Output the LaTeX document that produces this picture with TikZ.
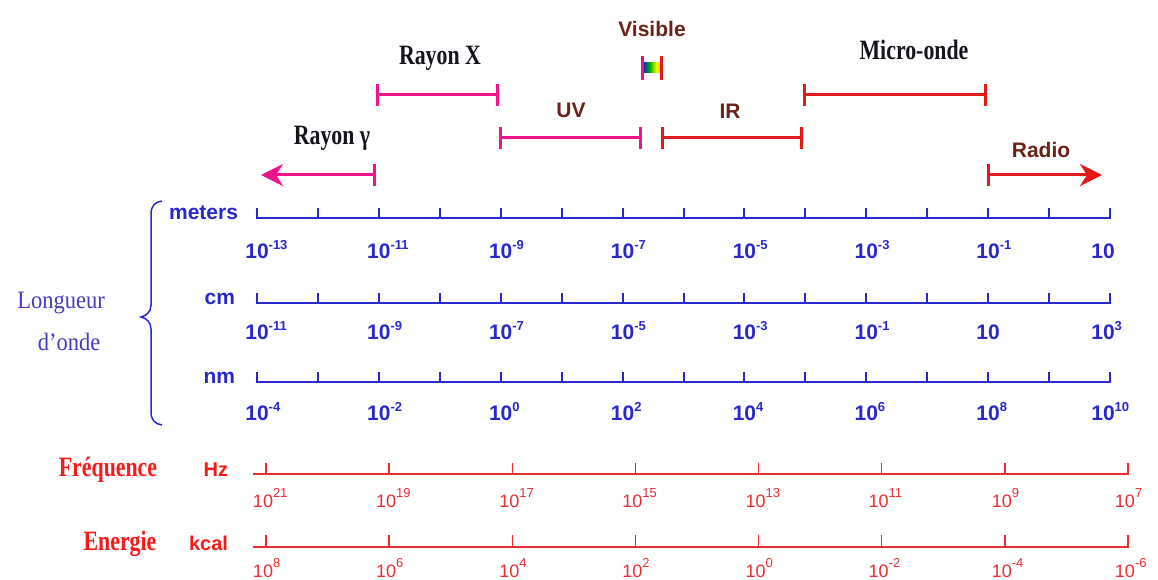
\documentclass[tikz,border=0pt]{standalone}
\usepackage{fontspec}
\setmainfont{Liberation Serif}
\newfontfamily\titlef[FakeStretch=0.78]{Liberation Serif}
\newfontfamily\lngf[FakeStretch=0.9]{Liberation Serif}
\newfontfamily\bluef{Liberation Sans}
\newfontfamily\plainf{Liberation Sans}
\usetikzlibrary{arrows.meta}
\definecolor{myblue}{RGB}{40,40,205}
\definecolor{lblue}{RGB}{70,60,190}
\definecolor{mypink}{RGB}{240,20,140}
\definecolor{myred}{RGB}{225,25,25}
\definecolor{axred}{RGB}{235,45,50}
\definecolor{txtred}{RGB}{250,25,25}
\definecolor{mybrown}{RGB}{105,35,25}
\definecolor{ttlblack}{RGB}{20,20,30}
\pgfdeclarehorizontalshading{rainbow}{100bp}{color(0bp)=(magenta); color(20bp)=(blue); color(45bp)=(green!70!black); color(65bp)=(yellow); color(82bp)=(orange); color(100bp)=(red)}
\newcommand\bexp[1]{\raisebox{0.42em}{\fontsize{13}{13}\selectfont#1}}
\newcommand\rexp[1]{\raisebox{0.55em}{\fontsize{13}{13}\selectfont#1}}
\newcommand\blab[1]{\llap{1}\rlap{0\bexp{#1}}}
\newcommand\rlab[1]{\llap{1}\rlap{0\rexp{#1}}}
\begin{document}
\begin{tikzpicture}[x=1pt,y=-1pt,
  every node/.style={inner sep=0pt,outer sep=0pt},
  rangebar/.style={line width=3pt},
  bothbars/.style={{Bar[width=22pt]}-{Bar[width=22pt]}},
  bluax/.style={myblue,line width=2pt},
  redax/.style={axred,line width=1.4pt},
  ttl/.style={font=\titlef\bfseries\fontsize{28}{30}\selectfont,text=ttlblack,anchor=base},
  redttl/.style={font=\titlef\bfseries\fontsize{28}{30}\selectfont,text=txtred,anchor=base},
  brn/.style={font=\bluef\bfseries\fontsize{21}{24}\selectfont,text=mybrown,anchor=base},
  unit/.style={font=\bluef\bfseries\fontsize{21}{24}\selectfont,text=myblue,anchor=base east},
  runit/.style={font=\bluef\bfseries\fontsize{20}{24}\selectfont,text=txtred,anchor=base east},
  bluelab/.style={font=\bluef\bfseries\fontsize{21}{24}\selectfont,text=myblue,anchor=base},
  redlab/.style={font=\plainf\fontsize{18}{20}\selectfont,text=axred,anchor=base},
  lng/.style={font=\lngf\fontsize{25}{27}\selectfont,text=lblue,anchor=base}]
\useasboundingbox[fill=white] (0,0) rectangle (1158,580);

% ---------- range bars ----------
\coordinate (gL) at (261,175); \coordinate (gR) at (376,175);
\coordinate (xL) at (376,95);  \coordinate (xR) at (499,95);
\coordinate (uvL) at (499,138); \coordinate (uvR) at (642,138);
\coordinate (visL) at (642,68); \coordinate (visR) at (661,68);
\coordinate (irL) at (661,138); \coordinate (irR) at (803,138);
\coordinate (moL) at (803,95); \coordinate (moR) at (987,95);
\coordinate (raL) at (987,175); \coordinate (raR) at (1102,175);

\draw[rangebar,mypink,{Stealth[length=22pt,width=22pt,inset=7pt]}-{Bar[width=22pt]}] (gL) -- (gR);
\draw[rangebar,mypink,bothbars] (xL) -- (xR);
\draw[rangebar,mypink,bothbars] (uvL) -- (uvR);
\draw[rangebar,myred,bothbars] (irL) -- (irR);
\draw[rangebar,myred,bothbars] (moL) -- (moR);
\draw[rangebar,myred,{Bar[width=22pt]}-{Stealth[length=22pt,width=22pt,inset=7pt]}] (raL) -- (raR);
% visible
\shade[shading=rainbow] (643,63) rectangle (660,73);
\draw[mypink,line width=3pt] (visL) ++(0,-12) -- ++(0,24);
\draw[myred,line width=3pt] (visR) ++(0,-12) -- ++(0,24);

% ---------- range labels ----------
\node[brn] (visT) at (652,37) {Visible};
\node[ttl] (rxT) at (440,65) {Rayon X};
\node[brn] (uvT) at (571,118) {UV};
\node[ttl] (rgT) at (332,145) {Rayon γ};
\node[brn] (irT) at (730,119) {IR};
\node[ttl] (moT) at (914,60) {Micro-onde};
\node[brn] (raT) at (1041,158) {Radio};

% ---------- wavelength axes ----------
\foreach \yy/\nm in {218/m,303/c,382/n}{
  \coordinate (\nm L) at (257,\yy);
  \coordinate (\nm R) at (1110,\yy);
  \draw[bluax] (\nm L) ++(0,-10) -- (\nm L) -- (\nm R) -- ++(0,-10);
  \foreach \k in {1,...,13}{
    \draw[bluax] (\nm L) ++(\k*60.93,0) -- ++(0,-10);
  }
}
\node[unit] (meters) at (238,219) {meters};
\node[unit] (cmT) at (235,304) {cm};
\node[unit] (nmT) at (235,383) {nm};

\foreach \k/\e in {0/-13,2/-11,4/-9,6/-7,8/-5,10/-3,12/-1}
  \node[bluelab] (ml\k) at (257+\k*60.93,258) {\blab{\e}};
\node[bluelab] (ml14) at (1103,258) {\blab{}};
\foreach \k/\e in {0/-11,2/-9,4/-7,6/-5,8/-3,10/-1,12/}
  \node[bluelab] (cl\k) at (257+\k*60.93,339) {\blab{\e}};
\node[bluelab] (cl14) at (1103,339) {\blab{3}};
\foreach \k/\e in {0/-4,2/-2,4/0,6/2,8/4,10/6,12/8}
  \node[bluelab] (nl\k) at (257+\k*60.93,420) {\blab{\e}};
\node[bluelab] (nl14) at (1103,420) {\blab{10}};

% brace and label
\draw[myblue,line width=1.5pt] (162,201) .. controls (155,202) and (151,206) .. (151,214)
  -- (151,305) .. controls (151,312) and (146,316) .. (141,317)
  .. controls (146,318) and (151,322) .. (151,329)
  -- (151,412) .. controls (151,420) and (155,424) .. (162,425);
\node[lng] (lo1) at (61,308) {Longueur};
\node[lng] (lo2) at (69,350) {d’onde};

% ---------- frequency / energy axes ----------
\foreach \yy/\nm/\th in {474/f/11,547/e/12}{
  \coordinate (\nm L) at (253,\yy);
  \coordinate (\nm R) at (1128,\yy);
  \draw[redax] (\nm L) -- (\nm R) -- ++(0,-\th);
  \foreach \k in {0,...,6}{
    \draw[redax] (266+\k*123.14,\yy) -- ++(0,-\th);
  }
}
\foreach \k/\e in {0/21,1/19,2/17,3/15,4/13,5/11,6/9,7/7}
  \node[redlab] (fl\k) at (263+\k*123.14,507) {\rlab{\e}};
\foreach \k/\e in {0/8,1/6,2/4,3/2,4/0,5/-2,6/-4,7/-6}
  \node[redlab] (el\k) at (263+\k*123.14,577) {\rlab{\e}};

\node[redttl] (freqT) at (108,476) {Fréquence};
\node[runit] (hzT) at (228,476) {Hz};
\node[redttl] (enT) at (120,550) {Energie};
\node[runit] (kcT) at (228,550) {kcal};
\end{tikzpicture}
\end{document}
